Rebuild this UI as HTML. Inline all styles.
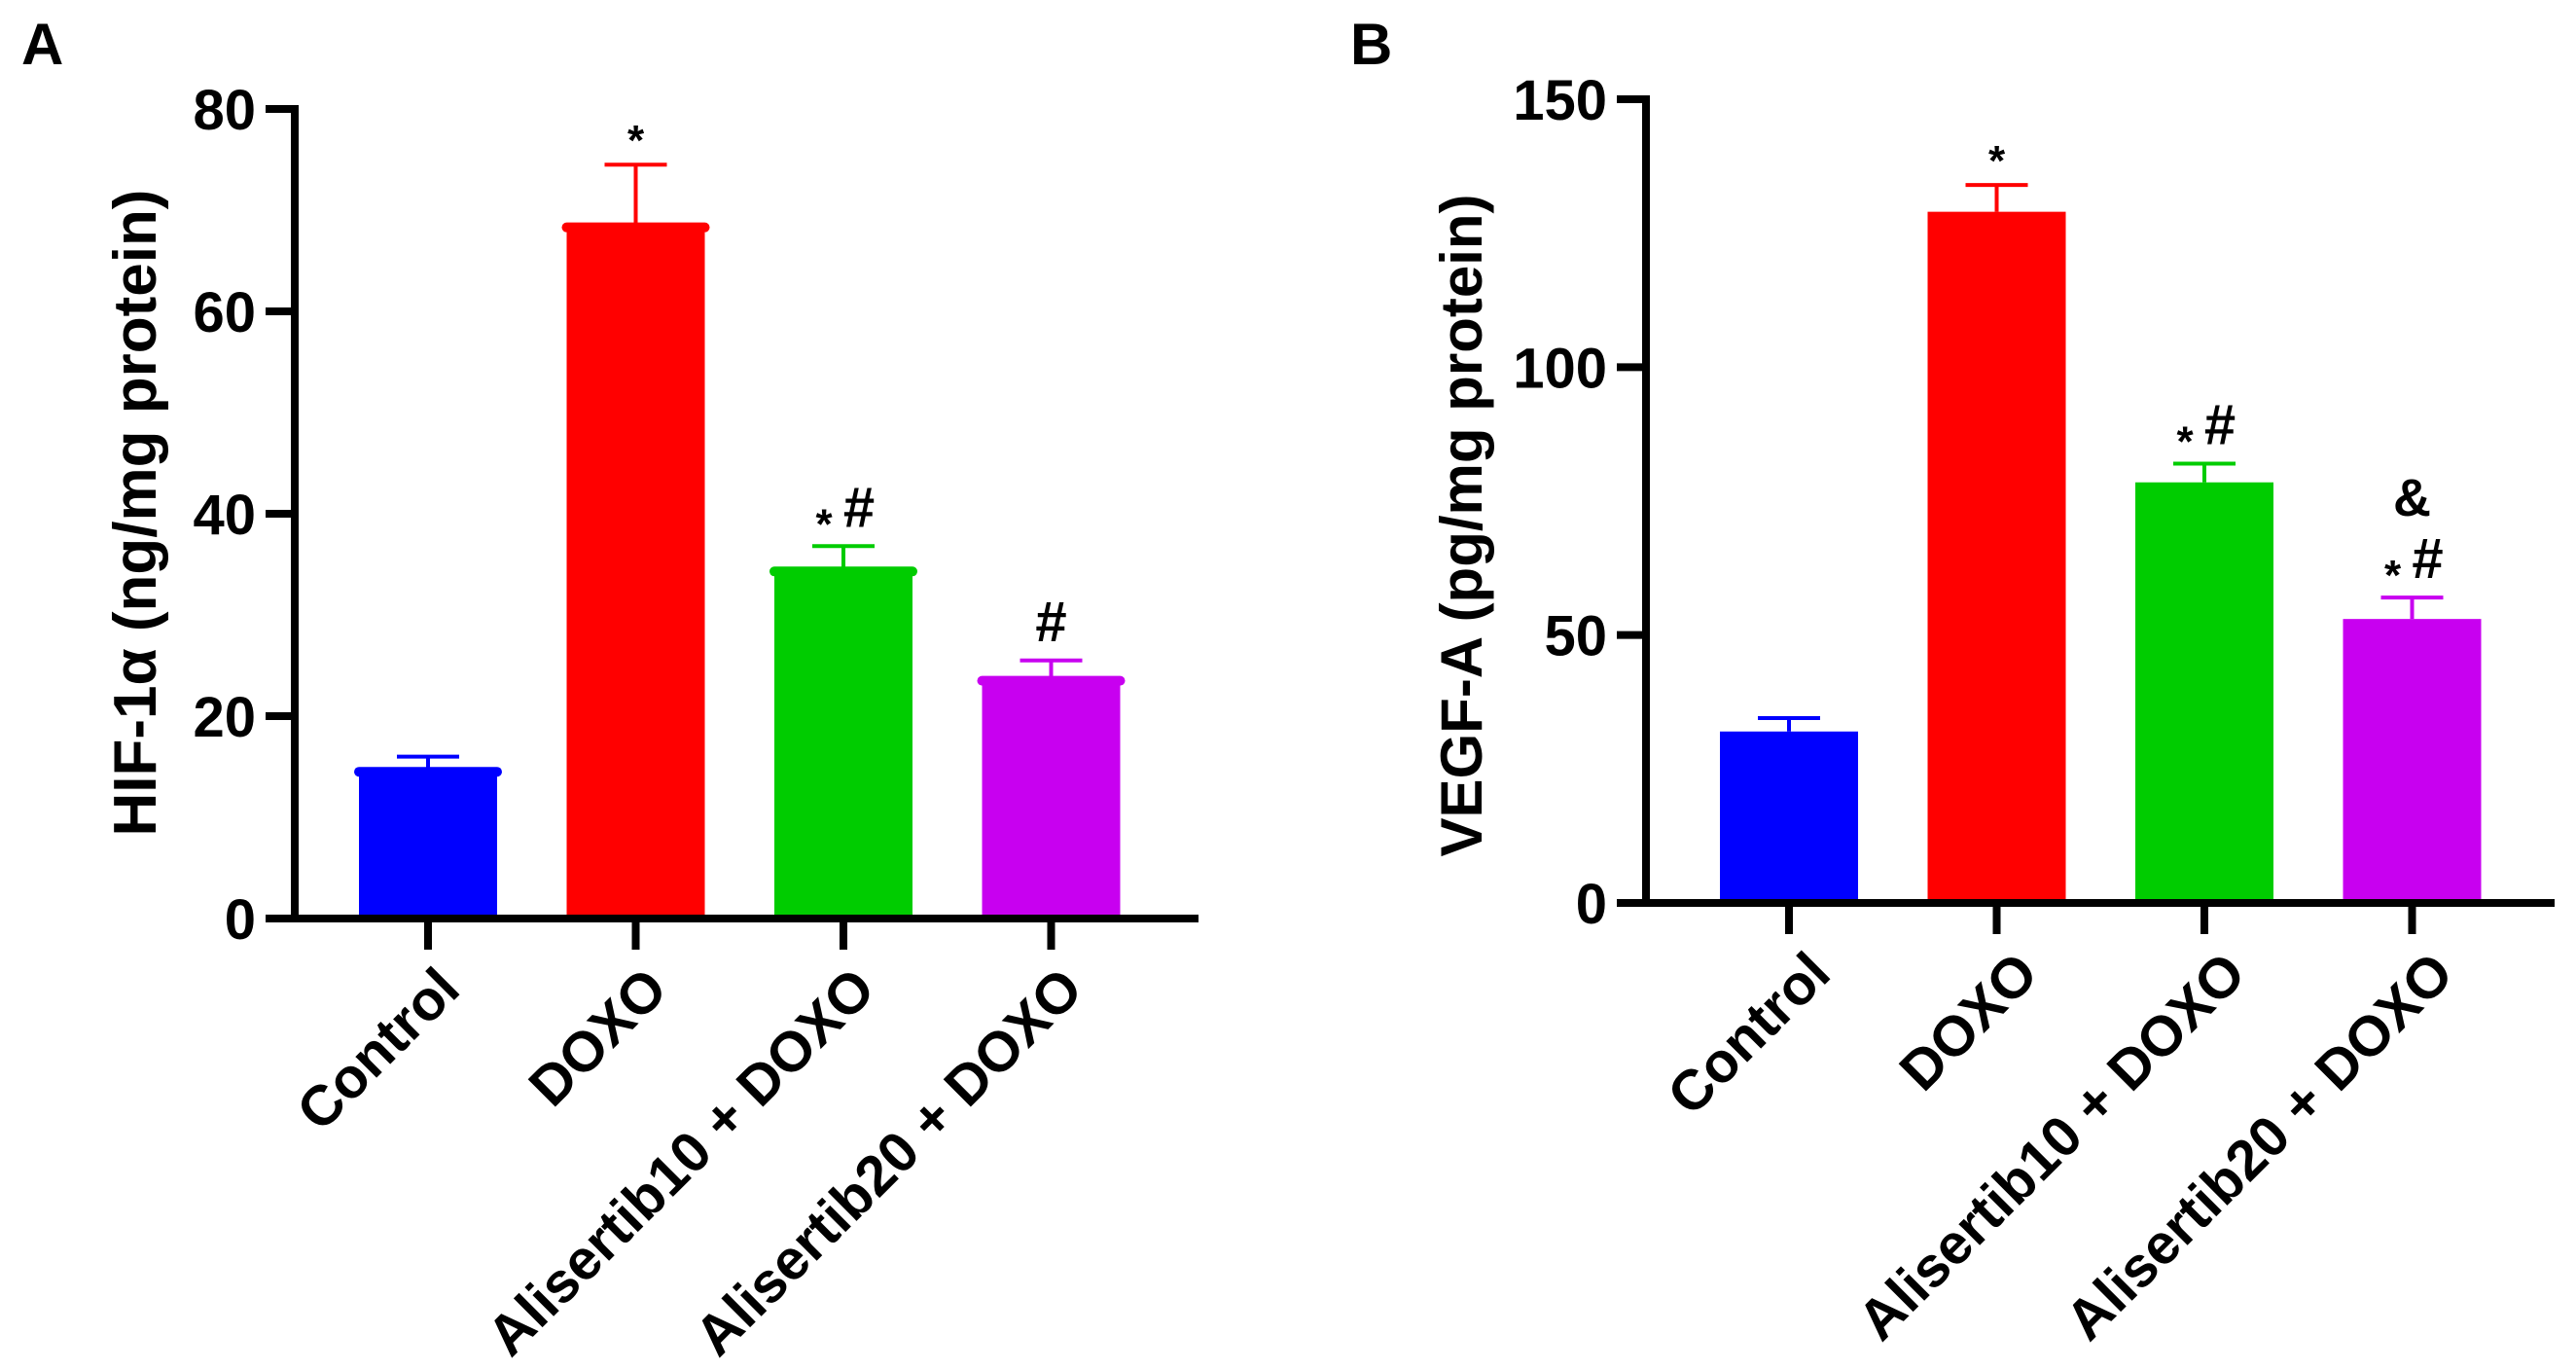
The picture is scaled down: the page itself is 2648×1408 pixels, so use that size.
<!DOCTYPE html>
<html><head><meta charset="utf-8"><style>
html,body{margin:0;padding:0;background:#fff}
svg{display:block}
text{font-family:"Liberation Sans",Arial,sans-serif;font-weight:bold;fill:#000}
</style></head><body>
<svg id="c" width="2648" height="1408" viewBox="0 0 2648 1408"></svg>
<script>
const categories=["Control","DOXO","Alisertib10 + DOXO","Alisertib20 + DOXO"];
const colors=["#0000ff","#ff0000","#00cc00","#c800f0"];
const hifValues=[14.5,68.3,34.3,23.5];
const hifErrors=[1.5,6.2,2.5,2.0];
const hifTicks=[0,20,40,60,80];
const hifAnn=[[],["*"],["*","#"],["#"]];
const vegfValues=[32,129,78.5,53];
const vegfErrors=[2.5,5,3.5,4];
const vegfTicks=[0,50,100,150];
const vegfAnn=[[],["*"],["*","#"],["*","#","&"]];
const NS="http://www.w3.org/2000/svg";
const svg=document.getElementById('c');
function mk(tag,attrs,parent,txt){const e=document.createElementNS(NS,tag);for(const k in attrs)e.setAttribute(k,attrs[k]);if(txt!==undefined)e.textContent=txt;(parent||svg).appendChild(e);return e;}
function panel(o){
  const g=mk('g',{});
  
  
  const y=v=>o.y0-(v/o.max)*(o.y0-o.yTop);
  const x=i=>o.x0+o.xStart+i*o.step;
  const lt=mk('text',{x:o.lx,y:66,'font-size':60},g,o.letter);
  
  
  o.values.forEach((v,i)=>{
    const cx=x(i),w=142;
    const top=y(v),et=y(v+o.errors[i]);
    const eb=mk('line',{x1:cx,x2:cx,y1:top,y2:et,stroke:colors[i],'stroke-width':4},g);
    
    
    const cap=mk('line',{x1:cx-32,x2:cx+32,y1:et,y2:et,stroke:colors[i],'stroke-width':4},g);
    
    
    const r=mk('rect',{x:cx-w/2,y:top,width:w,height:o.y0-top,fill:colors[i]},g);
    
    
    if(o.capRound){const c=mk('line',{x1:cx-w/2,x2:cx+w/2,y1:top,y2:top,stroke:colors[i],'stroke-width':10,'stroke-linecap':'round'},g);
      
      }
    const an=o.ann[i];
    const ay=et-32;
    let t;
    if(an.length===1){
      t=mk('text',{x:cx,y:an[0]==='*'?ay+22:ay+12,'font-size':an[0]==='*'?44:58,'text-anchor':'middle'},g,an[0]);
      
      
    } else if(an.length>=2){
      t=mk('text',{x:cx-20,y:ay+24,'font-size':44,'text-anchor':'middle'},g,'*');
      
      
      t=mk('text',{x:cx+16,y:ay+12,'font-size':58,'text-anchor':'middle'},g,'#');
      
      
      if(an.length===3){t=mk('text',{x:cx,y:ay-52,'font-size':54,'font-weight':'normal','text-anchor':'middle'},g,'&');
        
        }
    }
    const tk=mk('line',{x1:cx,x2:cx,y1:o.y0,y2:o.y0+32,stroke:'#000','stroke-width':8},g);
    
    
    const lx=cx+o.labDx,ly=o.y0+46;
    const lb=mk('text',{x:lx,y:ly,'font-size':58,'text-anchor':'end',transform:`rotate(-45 ${lx} ${ly})`,'dominant-baseline':'hanging'},g,categories[i]);
    
    
  });
  const ya=mk('line',{x1:o.x0,x2:o.x0,y1:o.yTop-4,y2:o.y0+4,stroke:'#000','stroke-width':8},g);
  
  
  const xa=mk('line',{x1:o.x0-30,x2:o.xEnd,y1:o.y0,y2:o.y0,stroke:'#000','stroke-width':8},g);
  
  
  o.ticks.forEach(v=>{
    const ty=y(v);
    const tl=mk('line',{x1:o.x0-30,x2:o.x0,y1:ty,y2:ty,stroke:'#000','stroke-width':8},g);
    
    
    const tt=mk('text',{x:o.x0-40,y:ty+21,'font-size':58,'text-anchor':'end'},g,String(v));
    
    
  });
  const yt=mk('text',{x:o.tx,y:o.ty,'font-size':o.tfs,'text-anchor':'middle',transform:`rotate(-90 ${o.tx} ${o.ty})`},g,o.title);
  
  
}
panel({name:'panel-a-hif',letter:'A',lx:22,x0:303,xStart:137,step:213.5,xEnd:1232,y0:944,yTop:112,max:80,
  values:hifValues,errors:hifErrors,ticks:hifTicks,ann:hifAnn,capRound:true,labDx:6,
  title:'HIF-1\u03b1 (ng/mg protein)',tfs:62,tx:160,ty:527});
panel({name:'panel-b-vegf',letter:'B',lx:1388,x0:1692,xStart:147,step:213.5,xEnd:2626,y0:928,yTop:102,max:150,
  values:vegfValues,errors:vegfErrors,ticks:vegfTicks,ann:vegfAnn,capRound:false,labDx:16,
  title:'VEGF-A (pg/mg protein)',tfs:60,tx:1523,ty:540});
</script>
</body></html>
